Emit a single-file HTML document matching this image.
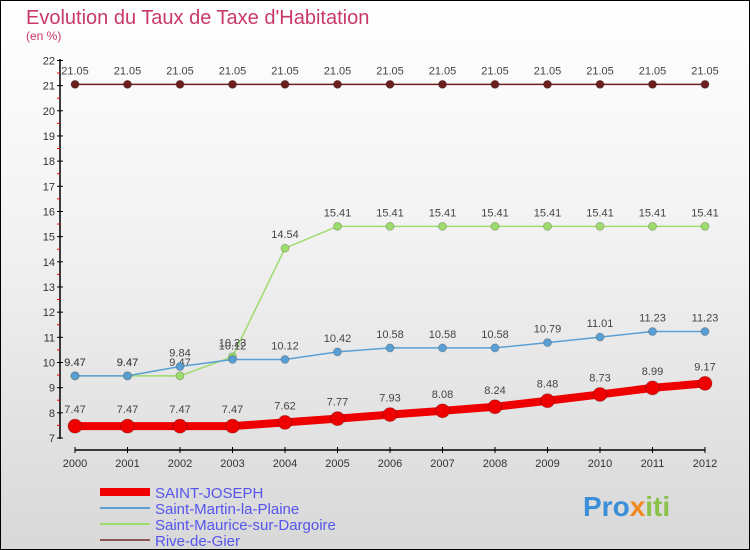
<!DOCTYPE html>
<html><head><meta charset="utf-8"><style>
body{margin:0}
#c{width:750px;height:550px;position:relative;overflow:hidden;font-family:"Liberation Sans",sans-serif;background:linear-gradient(#fff,#f3f3f3 40%,#d8d8d8)}
</style></head><body>
<div id="c">
<svg width="750" height="550" id="svg">
<rect x="0.5" y="0.5" width="749" height="549" fill="none" stroke="#000"/>
<text x="26" y="24" font-size="20" fill="#c8386a">Evolution du Taux de Taxe d'Habitation</text>
<text x="26" y="40" font-size="12" fill="#c8386a">(en %)</text>
<g id="g"></g>
<text x="583" y="516" font-size="28" font-weight="bold" fill="#3a8fd8">Pro<tspan fill="#f08a20">x</tspan><tspan fill="#8bc34a">iti</tspan></text>
</svg>
</div>
<script>
const years=[2000,2001,2002,2003,2004,2005,2006,2007,2008,2009,2010,2011,2012];
const yTicks=[7,8,9,10,11,12,13,14,15,16,17,18,19,20,21,22];
const stJoseph=[7.47,7.47,7.47,7.47,7.62,7.77,7.93,8.08,8.24,8.48,8.73,8.99,9.17];
const stMartin=[9.47,9.47,9.84,10.12,10.12,10.42,10.58,10.58,10.58,10.79,11.01,11.23,11.23];
const stMaurice=[9.47,9.47,9.47,10.23,14.54,15.41,15.41,15.41,15.41,15.41,15.41,15.41,15.41];
const rive=[21.05,21.05,21.05,21.05,21.05,21.05,21.05,21.05,21.05,21.05,21.05,21.05,21.05];
const names=["SAINT-JOSEPH","Saint-Martin-la-Plaine","Saint-Maurice-sur-Dargoire","Rive-de-Gier"];
const X=i=>75+i*52.5;
const Y=v=>438-(v-7)*25.17;
const g=document.getElementById('g');
const NS='http://www.w3.org/2000/svg';
function mk(t,a,name){const e=document.createElementNS(NS,t);for(const k in a)e.setAttribute(k,a[k]);


g.appendChild(e);return e;}
mk('line',{x1:60,y1:59,x2:60,y2:439,stroke:'#000','stroke-width':1.5},'y-axis');
yTicks.forEach(t=>{const y=Y(t);
mk('line',{x1:57,y1:y,x2:63,y2:y,stroke:'#000'},'y-tick');
const tx=mk('text',{x:55,y:y+4,'font-size':11,'text-anchor':'end',fill:'#333'},'y-tick-label');tx.textContent=t;
if(t<22)mk('line',{x1:57,y1:y-12.6,x2:60,y2:y-12.6,stroke:'#e00'},'y-minor-tick');});
mk('line',{x1:75,y1:450,x2:705,y2:450,stroke:'#000','stroke-width':1.5},'x-axis');
years.forEach((yr,i)=>{mk('line',{x1:X(i),y1:447,x2:X(i),y2:453,stroke:'#000'},'x-tick');
const t=mk('text',{x:X(i),y:467,'font-size':11,'text-anchor':'middle',fill:'#333'},'x-tick-label');t.textContent=yr;});
function series(d,col,w,r,key,lbl){
mk('polyline',{points:d.map((v,i)=>X(i)+','+Y(v)).join(' '),fill:'none',stroke:col,'stroke-width':w},key+'-line');
d.forEach((v,i)=>{mk('circle',{cx:X(i),cy:Y(v),r:r,fill:col,stroke:'#0003'},key+'-point');
const t=mk('text',{x:X(i),y:Y(v)-(r+6),'font-size':11,'text-anchor':'middle',fill:'#444'},key+'-value-label');t.textContent=v;});}
series(rive,'#6b1f1f',1.5,4,'rive-de-gier');
series(stMaurice,'#9edc6e',1.5,4,'saint-maurice');
series(stMartin,'#5a9fd4',1.5,4,'saint-martin');
series(stJoseph,'#ee0000',8,7,'saint-joseph');
const lc=['#ee0000','#5a9fd4','#9edc6e','#8b5555'],lw=[8,2,2,2];
names.forEach((n,i)=>{const y=492+i*16;
mk('line',{x1:100,y1:y,x2:150,y2:y,stroke:lc[i],'stroke-width':lw[i]},'legend-swatch');
const t=mk('text',{x:155,y:y+6,'font-size':15,fill:'#5555ee'},'legend-entry');t.textContent=n;});
</script>
</body></html>
